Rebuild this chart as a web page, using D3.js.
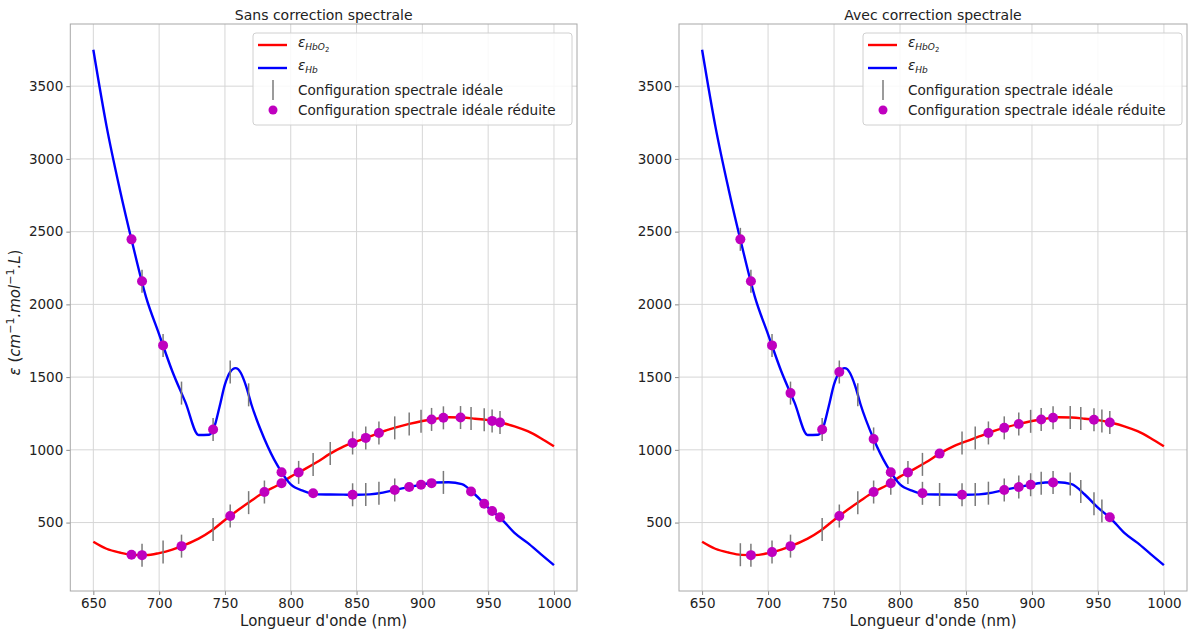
<!DOCTYPE html>
<html><head><meta charset="utf-8">
<script src="https://cdn.jsdelivr.net/npm/d3@7"></script>
<style>
body{margin:0;background:#fff}
svg{display:block}
text{font-family:"DejaVu Sans",sans-serif;fill:#222}
</style>
</head><body>
<svg id="chart" width="1188" height="631"></svg>
<script>
// ---- data ----
const hbo2Wl  = [650,660,670,680,690,700,710,720,730,740,750,760,770,780,790,800,810,820,830,840,850,860,870,880,890,900,910,920,930,940,950,960,970,980,990,1000];
const hbo2Eps = [368,320,294,278,276,290,314,348,390,446,518,586,650,710,756,816,864,916,974,1022,1058,1092,1126,1154,1178,1198,1214,1224,1222,1214,1204,1186,1162,1128,1080,1024];
const hbWl  = [650,660,670,680,690,700,710,720,730,738,742,746,750,752,754,756,758,760,762,766,770,780,790,800,810,820,830,840,850,860,870,880,890,900,910,920,930,940,950,960,970,980,990,1000];
const hbEps = [3750,3227,2795,2408,2052,1794,1540,1326,1102,1104,1160,1300,1450,1500,1535,1555,1562,1555,1530,1440,1315,1075,891,762,717,694,693,692,691,694,706,726,744,762,775,777,764,693,602,526,429,360,283,207];

// wavelengths of the ideal spectral configuration, with the curve values there
const idealWl   = [679,687,703,717,741,754,768,780,793,806,817,830,847,857,867,879,890,899,907,916,929,937,947,953,959];
const hbo2Ideal = [279,276,297,338,453,545,637,710,770,845,900,974,1047,1082,1116,1151,1178,1196,1209,1220,1222,1216,1207,1199,1188];
const hbIdeal   = [2447,2159,1718,1390,1140,1535,1378,1075,846,735,701,693,691,693,702,724,744,760,771,776,765,714,629,579,536];

// left panel (sans correction)
const leftHbo2Bars = [687,703,717,741,754,768,780,806,817,830,847,857,867,879,890,899,907,916,929,937,947,953,959];
const leftHbo2Dots = [679,687,717,754,780,793,806,847,857,867,907,916,929,953,959];
const leftHbBars   = [687,703,717,741,754,768,847,857,867,879,916];
const leftHbDots   = [679,687,703,741,793,817,847,879,890,899,907,937,947,953,959];
// right panel (avec correction)
const rightHbo2Bars = [679,687,703,717,741,754,768,780,793,806,817,847,857,867,879,890,899,907,916,929,937,947,953,959];
const rightHbo2Dots = [687,703,717,754,780,793,806,830,867,879,890,907,916,947,959];
const rightHbBars   = [679,687,703,717,741,754,768,780,817,830,847,857,867,879,890,899,907,916,929,937,947,953];
const rightHbDots   = [679,687,703,717,741,754,780,793,817,847,879,890,899,916,959];

const xTicks = [650,700,750,800,850,900,950,1000];
const yTicks = [500,1000,1500,2000,2500,3000,3500];
const titles = ["Sans correction spectrale","Avec correction spectrale"];
const xLabel = "Longueur d'onde (nm)";
const legendLabels = ["Configuration spectrale idéale","Configuration spectrale idéale réduite"];

// ---- drawing ----
const svg = d3.select("#chart");
const RED = "#ff0000", BLUE = "#0000ff", GRAY = "#7a7a7a", MAG = "#bf00bf";
const yTop = 24, yBot = 591;

function panel(x0, x1, title, sets, showYLabel){
  const x = d3.scaleLinear().domain([632.5,1017.5]).range([x0,x1]);
  const y = d3.scaleLinear().domain([29.6,3927.3]).range([yBot,yTop]);
  const g = svg.append("g");

  // grid
  g.append("g").selectAll("line").data(xTicks).join("line")
    .attr("x1",d=>x(d)).attr("x2",d=>x(d)).attr("y1",yTop).attr("y2",yBot)
    .attr("stroke","#d6d6d6").attr("stroke-width",1);
  g.append("g").selectAll("line").data(yTicks).join("line")
    .attr("x1",x0).attr("x2",x1).attr("y1",d=>y(d)).attr("y2",d=>y(d))
    .attr("stroke","#d6d6d6").attr("stroke-width",1);

  // axes
  const xa = g.append("g").attr("transform",`translate(0,${yBot})`)
    .call(d3.axisBottom(x).tickValues(xTicks).tickSize(4).tickPadding(3).tickFormat(d3.format("d")));
  const ya = g.append("g").attr("transform",`translate(${x0},0)`)
    .call(d3.axisLeft(y).tickValues(yTicks).tickSize(4).tickPadding(3).tickFormat(d3.format("d")));
  [xa,ya].forEach(a=>{
    a.select(".domain").remove();
    a.selectAll(".tick line").attr("stroke","#888");
    a.selectAll("text").attr("font-size",13.5).attr("fill","#222").attr("font-family","DejaVu Sans");
  });
  // spines
  g.append("rect").attr("x",x0).attr("y",yTop).attr("width",x1-x0).attr("height",yBot-yTop)
    .attr("fill","none").attr("stroke","#a8a8a8").attr("stroke-width",1);

  // curves
  const line = d3.line().x(d=>x(d[0])).y(d=>y(d[1])).curve(d3.curveMonotoneX);
  g.append("path").datum(d3.zip(hbo2Wl,hbo2Eps)).attr("d",line)
    .attr("fill","none").attr("stroke",RED).attr("stroke-width",2.4);
  g.append("path").datum(d3.zip(hbWl,hbEps)).attr("d",line)
    .attr("fill","none").attr("stroke",BLUE).attr("stroke-width",2.4);

  const val = (arr,w)=>arr[idealWl.indexOf(w)];
  // bars
  const bars = sets.hbo2Bars.map(w=>[w,val(hbo2Ideal,w)]).concat(sets.hbBars.map(w=>[w,val(hbIdeal,w)]));
  g.append("g").selectAll("line").data(bars).join("line")
    .attr("x1",d=>x(d[0])).attr("x2",d=>x(d[0]))
    .attr("y1",d=>y(d[1])-11.5).attr("y2",d=>y(d[1])+11.5)
    .attr("stroke",GRAY).attr("stroke-width",1.5);
  // dots
  const dots = sets.hbo2Dots.map(w=>[w,val(hbo2Ideal,w)]).concat(sets.hbDots.map(w=>[w,val(hbIdeal,w)]));
  g.append("g").selectAll("circle").data(dots).join("circle")
    .attr("cx",d=>x(d[0])).attr("cy",d=>y(d[1])).attr("r",5).attr("fill",MAG);

  // title & x label
  const cx = (x0+x1)/2;
  g.append("text").attr("x",cx).attr("y",20).attr("text-anchor","middle")
    .attr("font-size",14).text(title);
  g.append("text").attr("x",cx).attr("y",626).attr("text-anchor","middle")
    .attr("font-size",15).text(xLabel);

  if(showYLabel){
    const t = g.append("text").attr("transform",`translate(20,${(yTop+yBot)/2+5}) rotate(-90)`)
      .attr("text-anchor","middle").attr("font-size",15);
    t.append("tspan").attr("font-style","italic").text("ε");
    t.append("tspan").text("   (");
    t.append("tspan").attr("font-style","italic").text("cm");
    t.append("tspan").attr("font-size",11).attr("dy",-6).text("−1");
    t.append("tspan").attr("dy",6).attr("font-style","italic").text(".mol");
    t.append("tspan").attr("font-size",11).attr("dy",-6).text("−1");
    t.append("tspan").attr("dy",6).attr("font-style","italic").text(".L");
    t.append("tspan").text(")");
  }

  // legend
  const lw = 319, lh = 92;
  const lg = g.append("g").attr("transform",`translate(${x1-5-lw},${yTop+9})`);
  lg.append("rect").attr("width",lw).attr("height",lh).attr("rx",3)
    .attr("fill","#fff").attr("fill-opacity",0.85).attr("stroke","#d0d0d0");
  lg.append("line").attr("x1",5).attr("x2",34).attr("y1",12).attr("y2",12).attr("stroke",RED).attr("stroke-width",2.4);
  lg.append("line").attr("x1",5).attr("x2",34).attr("y1",35).attr("y2",35).attr("stroke",BLUE).attr("stroke-width",2.4);
  lg.append("line").attr("x1",20).attr("x2",20).attr("y1",47).attr("y2",67).attr("stroke",GRAY).attr("stroke-width",1.5);
  lg.append("circle").attr("cx",20).attr("cy",77).attr("r",4.5).attr("fill",MAG);
  const t1 = lg.append("text").attr("x",45).attr("y",14).attr("font-size",13.5);
  t1.append("tspan").attr("font-style","italic").text("ε");
  t1.append("tspan").attr("font-style","italic").attr("font-size",9).attr("dy",3).text("HbO");
  t1.append("tspan").attr("font-size",7).attr("dy",2).text("2");
  const t2 = lg.append("text").attr("x",45).attr("y",37).attr("font-size",13.5);
  t2.append("tspan").attr("font-style","italic").text("ε");
  t2.append("tspan").attr("font-style","italic").attr("font-size",9).attr("dy",3).text("Hb");
  lg.append("text").attr("x",45).attr("y",62).attr("font-size",13.6).text(legendLabels[0]);
  lg.append("text").attr("x",45).attr("y",82).attr("font-size",13.6).text(legendLabels[1]);
}

panel(70.3, 577, titles[0], {hbo2Bars:leftHbo2Bars,hbo2Dots:leftHbo2Dots,hbBars:leftHbBars,hbDots:leftHbDots}, true);
panel(679, 1187, titles[1], {hbo2Bars:rightHbo2Bars,hbo2Dots:rightHbo2Dots,hbBars:rightHbBars,hbDots:rightHbDots}, false);
</script>
</body></html>
